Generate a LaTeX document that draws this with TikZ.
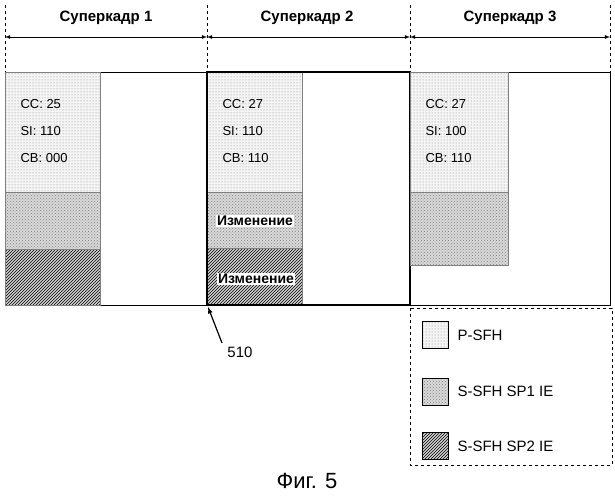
\documentclass[tikz,border=0pt]{standalone}
\usepackage{fontspec}
\setmainfont{Liberation Sans}
\usetikzlibrary{positioning,calc,patterns}

\tikzset{
  psfh/.style={draw=gray,preaction={fill=gray!8},pattern=dots,pattern color=gray},
  sponebox/.style={draw=gray,preaction={fill=gray!30},pattern=crosshatch dots,pattern color=gray},
  sptwobox/.style={draw=gray,preaction={fill=gray!35},pattern=north east lines,pattern color=black},
  field/.style={font=\fontsize{13}{15}\selectfont,anchor=west},
  change/.style={fill=white,inner sep=1pt,font=\fontsize{14}{16}\selectfont\bfseries},
  sflabel/.style={font=\fontsize{15}{17}\selectfont\bfseries},
  legtext/.style={font=\fontsize{15}{17}\selectfont,anchor=west},
}

\begin{document}
\begin{tikzpicture}[x=1pt,y=-1pt]
  \useasboundingbox (0,0) rectangle (615,500);

  % superframe borders and headers
  \foreach \x in {5,207,410,610}
    \draw[dashed] (\x,5) -- (\x,72);
  \draw[<->,>=latex,thick] (5,37) -- (207,37);
  \draw[<->,>=latex,thick] (207,37) -- (410,37);
  \draw[<->,>=latex,thick] (410,37) -- (610,37);
  \node[sflabel] (sf1) at (106,18) {Суперкадр 1};
  \node[sflabel] (sf2) at (307,18) {Суперкадр 2};
  \node[sflabel] (sf3) at (510,18) {Суперкадр 3};

  % frame
  \draw (5,72) rectangle (610,305);

  % superframe 1
  \draw[psfh] (5,72) rectangle (100,192);
  \draw[sponebox] (5,192) rectangle (100,249);
  \draw[sptwobox] (5,249) rectangle (100,305);
  \node[field] (cc1) at (17,104) {CC: 25};
  \node[field] (si1) at (17,131) {SI: 110};
  \node[field] (cb1) at (17,158) {CB: 000};

  % superframe 2
  \draw[psfh] (207,72) rectangle (302,192);
  \draw[sponebox] (207,192) rectangle (302,248);
  \draw[sptwobox] (207,248) rectangle (302,305);
  \node[field] (cc2) at (219,104) {CC: 27};
  \node[field] (si2) at (219,131) {SI: 110};
  \node[field] (cb2) at (219,158) {CB: 110};
  \node[change] (ch1) at (255,221) {Изменение};
  \node[change] (ch2) at (256,279) {Изменение};
  \draw[very thick] (207,72) rectangle (410,305);

  % superframe 3
  \draw[psfh] (410,72) rectangle (508,192);
  \draw[sponebox] (410,192) rectangle (508,265);
  \node[field] (cc3) at (422,104) {CC: 27};
  \node[field] (si3) at (422,131) {SI: 100};
  \node[field] (cb3) at (422,158) {CB: 110};

  % marker
  \coordinate (tip) at (208,307);
  \node[legtext,anchor=center] (mark) at (240,352) {510};
  \draw[-latex,very thick] (222,343) -- (tip);

  % legend
  \draw[dashed] (410,308) rectangle (612,465);
  \draw[psfh,draw=black] (422,321) rectangle (448,348);
  \draw[sponebox,draw=black] (422,378) rectangle (448,405);
  \draw[sptwobox,draw=black] (422,432) rectangle (448,459);
  \node[legtext] (lg1) at (454,335) {P-SFH};
  \node[legtext] (lg2) at (454,391) {S-SFH SP1 IE};
  \node[legtext] (lg3) at (454,446) {S-SFH SP2 IE};

  \node[font=\fontsize{22}{24}\selectfont] (fig) at (307,481) {Фиг. 5};
\end{tikzpicture}
\end{document}
